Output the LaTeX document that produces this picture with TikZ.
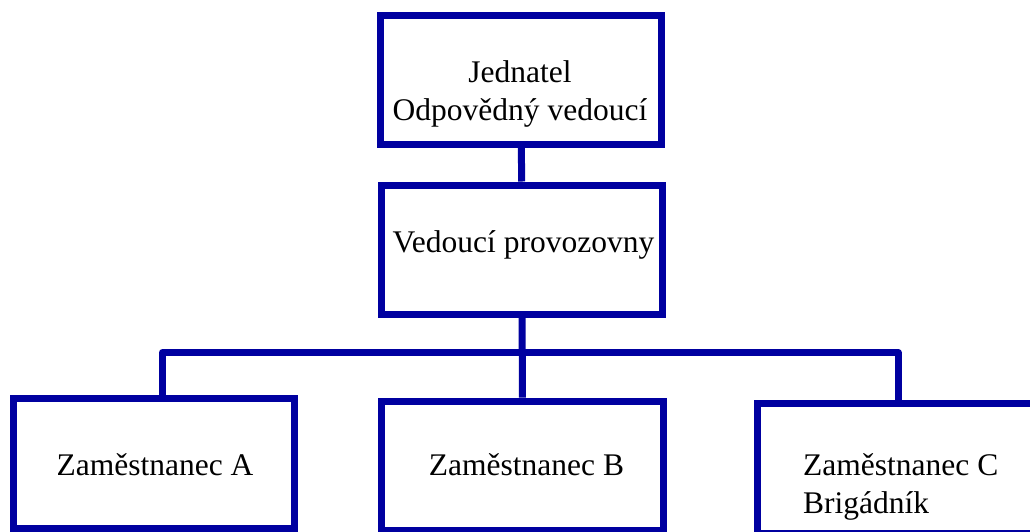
\documentclass[tikz,border=0pt]{standalone}
\usepackage{fontspec}
\setmainfont{Liberation Serif}
\usepackage{tikz}

\definecolor{orgblue}{RGB}{0,0,160}

\begin{document}
\begin{tikzpicture}[x=1pt,y=-1pt,
        box/.style={draw=orgblue,line width=7pt,rectangle,inner sep=0pt,
            minimum width=281.5pt,minimum height=129.5pt},
        txt/.style={font=\fontsize{31.5}{38}\selectfont,inner sep=0pt},
        link/.style={draw=orgblue,line width=7pt,line join=round}]
        \useasboundingbox (0,0) rectangle (1030,531);
        % boxes
        \node[box] (jednatel) at (521,79.75) {};
        \node[box] (vedouci) at (522,249.75) {};
        \node[box] (zamA) at (153.75,463.25) {};
        \node[box] (zamB) at (522.5,465.75) {};
        \node[box] (zamC) at (897.75,468.25) {};
        % texts (base = last line)
        \node[txt,align=center,anchor=base] (jednatel-t) at (520,120) {Jednatel\\Odpovědný vedoucí};
        \node[txt,anchor=base] (vedouci-t) at (523.5,252) {Vedoucí provozovny};
        \node[txt,anchor=base] (zamA-t) at (155,475) {Zaměstnanec A};
        \node[txt,anchor=base] (zamB-t) at (526.5,475) {Zaměstnanec B};
        \node[txt,align=left,anchor=base west] (zamC-t) at (803,513) {Zaměstnanec C\\Brigádník};
        % connectors
        \coordinate (busL) at (162.5,352.5);
        \coordinate (busR) at (898,352.5);
        \draw[link] (jednatel) -- (vedouci);
        \draw[link] (vedouci) -- (zamB);
        \draw[link] (busL |- zamA.north) -- (busL) -- (busR) -- (busR |- zamC.north);
    \end{tikzpicture}
\end{document}
